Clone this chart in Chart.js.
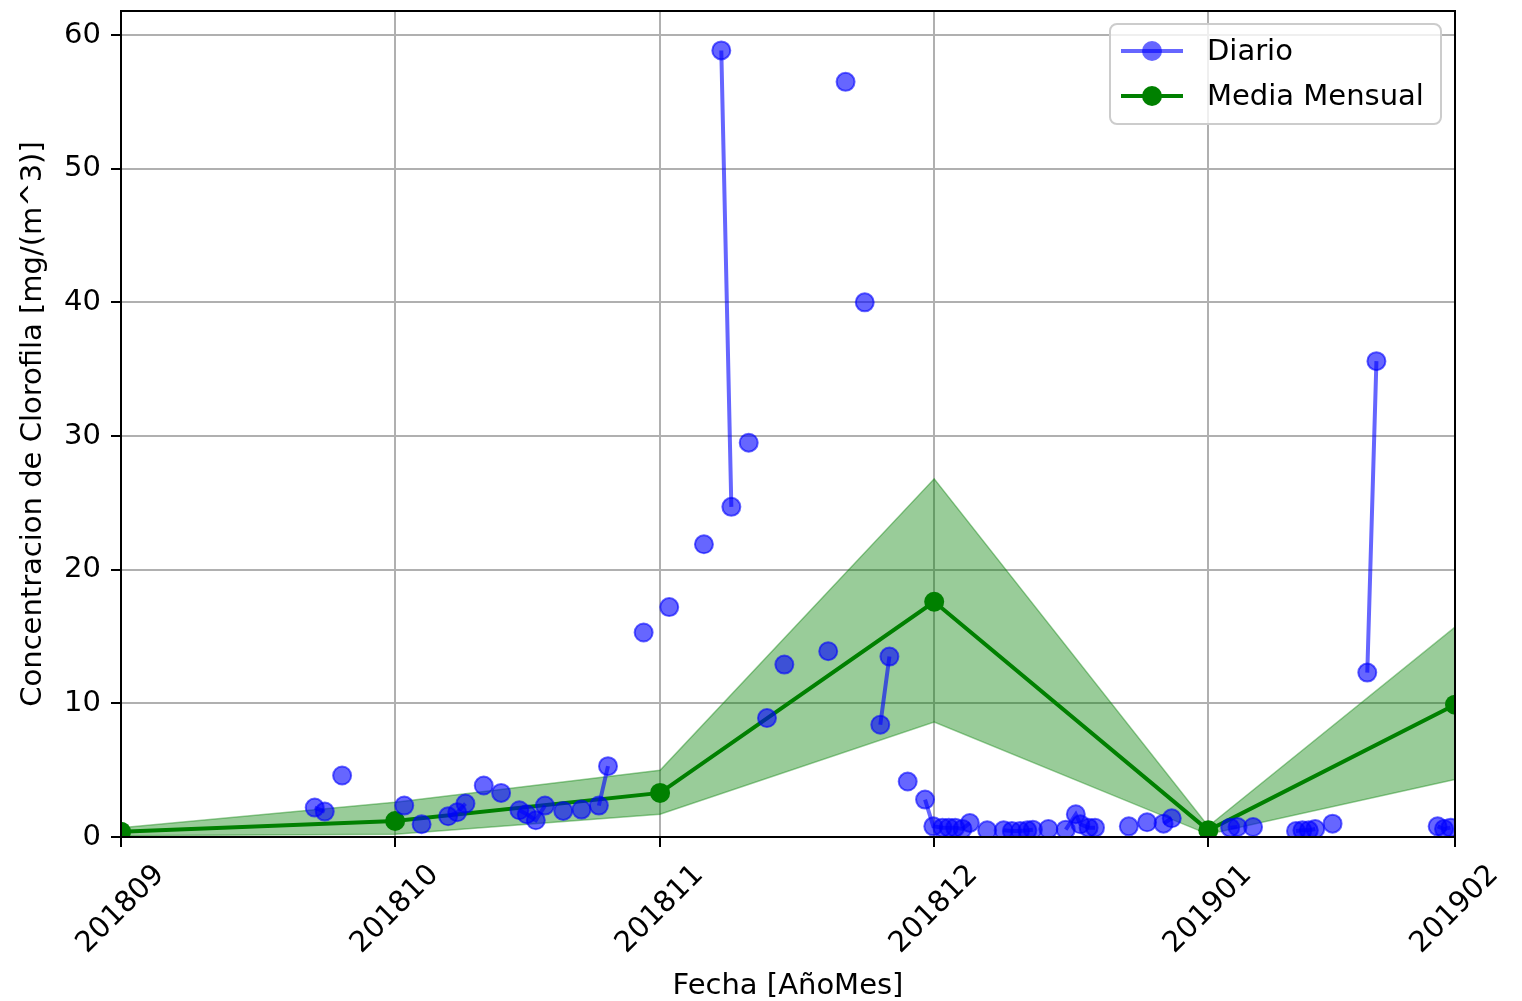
<!DOCTYPE html>
<html>
<head>
<meta charset="utf-8">
<script src="https://cdn.jsdelivr.net/npm/chart.js@4.4.1/dist/chart.umd.min.js"></script>
<style>
  html, body { margin: 0; padding: 0; background: #fff; overflow: hidden; }
  #wrap { width: 1522px; height: 1001px; }
</style>
</head>
<body>
<div id="wrap"><canvas id="chart"></canvas></div>
<script>
// x axis is in days from the first month mark
const monthTicks = [0, 30, 59, 89, 119, 146];
const monthLabels = ['201809', '201810', '201811', '201812', '201901', '201902'];
const yTicks = [0, 10, 20, 30, 40, 50, 60];

// daily values (Diario)
const diaX = [
  21.2, 22.3, 24.2,
  31.0, 32.9, 35.8, 36.8, 37.7, 39.7, 41.6, 43.6, 44.4, 45.4, 46.4, 48.4, 50.4, 52.3, 53.3,
  57.2, 60.0, 63.8, 65.7, 66.8, 68.7, 70.7, 72.6, 77.4, 79.3, 81.4, 83.1, 84.1, 86.1, 88.0,
  88.9, 89.9, 90.6, 91.3, 92.1, 92.9, 94.8, 96.6, 97.5, 98.4, 99.2, 99.8, 101.5, 103.4, 104.5, 105.0, 105.9, 106.6, 110.3, 112.3, 114.1, 115.0,
  121.4, 122.2, 123.9, 128.6, 129.3, 130.0, 130.7, 132.6, 136.4, 137.4, 144.1, 144.8, 145.5
];
const diaY = [
  2.2, 1.9, 4.6,
  2.35, 0.95, 1.55, 1.85, 2.5, 3.85, 3.3, 2.0, 1.7, 1.25, 2.35, 1.95, 2.05, 2.35, 5.3,
  15.3, 17.2, 21.9, 58.85, 24.7, 29.5, 8.9, 12.9, 13.9, 56.5, 40.0, 8.4, 13.5, 4.15, 2.8,
  0.8, 0.7, 0.7, 0.7, 0.6, 1.05, 0.5, 0.5, 0.45, 0.45, 0.5, 0.55, 0.6, 0.55, 1.7, 0.95, 0.7, 0.7, 0.8, 1.1, 1.0, 1.4,
  0.7, 0.75, 0.75, 0.45, 0.5, 0.5, 0.6, 1.0, 12.3, 35.6, 0.8, 0.6, 0.7
];

// monthly mean and its band
const meanY = [0.4, 1.2, 3.3, 17.6, 0.5, 9.9];
const bandHigh = [0.7, 2.6, 5.0, 26.8, 0.8, 15.7];
const bandLow = [0.1, 0.2, 1.7, 8.6, 0.2, 4.3];

const FONT = 'DejaVu Sans';
const BLUE = 'rgba(0,0,255,0.6)';
const GREEN = '#008000';
const BAND = 'rgba(0,128,0,0.4)';

const toPts = (xs, ys) => xs.map((x, i) => ({x: x, y: ys[i]}));

// top/right spines and the legend box
const framePlugin = {
  id: 'frame',
  afterDatasetsDraw(chart) {
    const {ctx, chartArea: a} = chart;
    ctx.save();
    ctx.strokeStyle = '#000';
    ctx.lineWidth = 2;
    ctx.beginPath();
    ctx.moveTo(a.left, a.top);
    ctx.lineTo(a.right, a.top);
    ctx.lineTo(a.right, a.bottom);
    ctx.stroke();
    ctx.restore();
  },
  afterDraw(chart) {
    const {ctx, chartArea: a} = chart;
    const w = 331, h = 100;
    const x0 = a.right - 14 - w, y0 = a.top + 13;
    ctx.save();
    ctx.fillStyle = 'rgba(255,255,255,0.8)';
    ctx.strokeStyle = '#cccccc';
    ctx.lineWidth = 2;
    ctx.beginPath();
    ctx.roundRect(x0, y0, w, h, 7);
    ctx.fill();
    ctx.stroke();

    const rows = [
      {label: 'Diario', color: BLUE, y: y0 + 27},
      {label: 'Media Mensual', color: GREEN, y: y0 + 72}
    ];
    rows.forEach(r => {
      ctx.strokeStyle = r.color;
      ctx.lineWidth = 4;
      ctx.beginPath();
      ctx.moveTo(x0 + 11, r.y);
      ctx.lineTo(x0 + 73, r.y);
      ctx.stroke();
      ctx.fillStyle = r.color;
      ctx.beginPath();
      ctx.arc(x0 + 42, r.y, 10, 0, Math.PI * 2);
      ctx.fill();
      ctx.fillStyle = '#000';
      ctx.font = '29px "' + FONT + '"';
      ctx.textBaseline = 'middle';
      ctx.textAlign = 'left';
      ctx.fillText(r.label, x0 + 97, r.y + 1);
    });
    ctx.restore();
  }
};

new Chart(document.getElementById('chart'), {
  type: 'line',
  data: {
    datasets: [
      {
        label: 'Diario',
        data: toPts(diaX, diaY),
        borderColor: BLUE,
        borderWidth: 4,
        pointRadius: 9,
        pointBorderWidth: 2,
        pointBackgroundColor: BLUE,
        pointBorderColor: BLUE,
        spanGaps: 1.5,
        clip: 0,
        order: 0
      },
      {
        label: 'Media Mensual',
        data: toPts(monthTicks, meanY),
        borderColor: GREEN,
        borderWidth: 4,
        pointRadius: 10,
        pointBorderWidth: 0,
        pointBackgroundColor: GREEN,
        clip: 0,
        order: 1
      },
      {
        label: 'high',
        data: toPts(monthTicks, bandHigh),
        borderColor: BAND,
        borderWidth: 1.5,
        backgroundColor: BAND,
        pointRadius: 0,
        fill: '+1',
        clip: 0,
        order: 2
      },
      {
        label: 'low',
        data: toPts(monthTicks, bandLow),
        borderColor: BAND,
        borderWidth: 1.5,
        pointRadius: 0,
        fill: false,
        clip: 0,
        order: 3
      }
    ]
  },
  options: {
    responsive: true,
    maintainAspectRatio: false,
    animation: false,
    layout: { padding: { top: 10, right: 67, bottom: 0, left: 0 } },
    plugins: {
      legend: { display: false },
      tooltip: { enabled: false }
    },
    scales: {
      x: {
        type: 'linear',
        min: 0,
        max: 146,
        afterBuildTicks: s => { s.ticks = monthTicks.map(v => ({value: v})); },
        afterFit: s => { s.height = 164; s.paddingLeft = 0; s.paddingRight = 0; },
        ticks: {
          autoSkip: false,
          minRotation: 45,
          maxRotation: 45,
          labelOffset: 39,
          padding: 11,
          color: '#000',
          font: { family: FONT, size: 29 },
          callback: v => monthLabels[monthTicks.indexOf(v)]
        },
        grid: { color: '#b0b0b0', lineWidth: 2, tickLength: 10, tickColor: '#000', tickWidth: 2 },
        border: { color: '#000', width: 2, z: 1 },
        title: {
          display: true,
          text: 'Fecha [AñoMes]',
          color: '#000',
          font: { family: FONT, size: 29 },
          padding: { top: 0, bottom: -3 }
        }
      },
      y: {
        min: 0,
        max: 61.8,
        afterBuildTicks: s => { s.ticks = yTicks.map(v => ({value: v})); },
        afterFit: s => { s.width = 121; s.paddingTop = 0; s.paddingBottom = 0; },
        ticks: {
          padding: 10,
          color: '#000',
          font: { family: FONT, size: 29 }
        },
        grid: { color: '#b0b0b0', lineWidth: 2, tickLength: 10, tickColor: '#000', tickWidth: 2 },
        border: { color: '#000', width: 2, z: 1 },
        title: {
          display: true,
          text: 'Concentracion de Clorofila [mg/(m^3)]',
          color: '#000',
          font: { family: FONT, size: 29 },
          padding: { top: 16, bottom: 0 }
        }
      }
    }
  },
  plugins: [framePlugin]
});
</script>
</body>
</html>
